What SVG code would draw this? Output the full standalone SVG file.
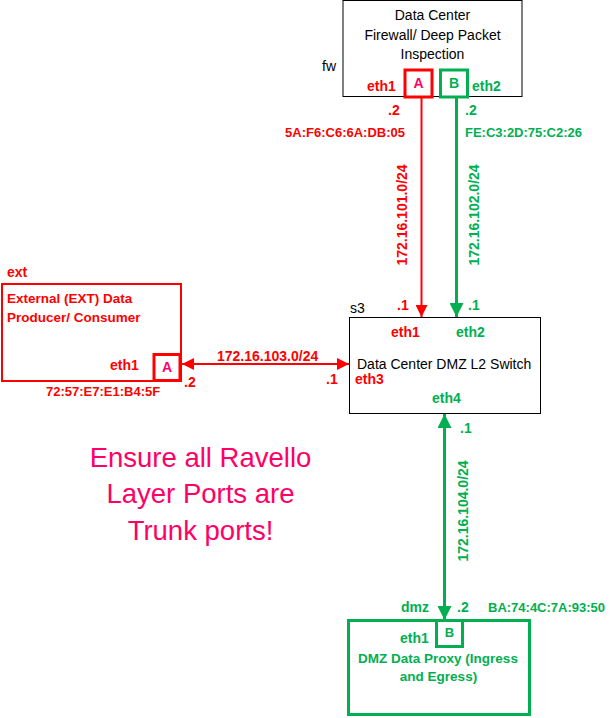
<svg xmlns="http://www.w3.org/2000/svg" width="612" height="718" viewBox="0 0 612 718">
<style>
text{font-family:"Liberation Sans",Arial,sans-serif}
.blk{fill:#000;font-size:14px}
.r{fill:#FF0000;font-weight:bold}
.g{fill:#00B050;font-weight:bold}
.s14{font-size:14px}
.s13{font-size:13px}
.mid{text-anchor:middle}
.box{fill:#fff;stroke:#000;stroke-width:1}
.rbox{fill:#fff;stroke:#FF0000}
.gbox{fill:#fff;stroke:#00B050}
.pink{fill:#FF0066}
</style>
<defs>
<marker id="ar" markerUnits="userSpaceOnUse" markerWidth="12" markerHeight="12" refX="12" refY="6" orient="auto-start-reverse"><path d="M0,0 L12,6 L0,12 z" fill="#FF0000"/></marker>
<marker id="ag" markerUnits="userSpaceOnUse" markerWidth="14" markerHeight="14" refX="14" refY="7" orient="auto-start-reverse"><path d="M0,0 L14,7 L0,14 z" fill="#00B050"/></marker>
</defs>
<rect width="612" height="718" fill="#fff"/>

<g id="fw">
<rect class="box" x="343" y="0.5" width="179" height="96"/>
<text class="blk mid" x="432.5" y="20">Data Center</text>
<text class="blk mid" x="432.5" y="40">Firewall/ Deep Packet</text>
<text class="blk mid" x="432.5" y="59">Inspection</text>
<text class="blk" x="322" y="71">fw</text>
<rect class="rbox" x="405" y="70" width="27" height="27" stroke-width="3"/>
<text class="pink mid s14" x="418.5" y="88" font-weight="bold">A</text>
<rect class="gbox" x="440.5" y="70" width="27" height="27" stroke-width="3"/>
<text class="g mid s14" x="454" y="88">B</text>
<text class="r s14" x="367" y="91">eth1</text>
<text class="g s14" x="472" y="91">eth2</text>
</g>

<g id="s3">
<rect class="box" x="349.5" y="317.5" width="191" height="96"/>
<text class="blk" x="350" y="313">s3</text>
<text class="r s14" x="391" y="337">eth1</text>
<text class="g s14" x="456" y="337">eth2</text>
<text class="blk" x="357" y="369">Data Center DMZ L2 Switch</text>
<text class="r s14" x="355" y="384">eth3</text>
<text class="g s14" x="432" y="403">eth4</text>
</g>

<g id="ext">
<rect class="rbox" x="2" y="284" width="179" height="97" stroke-width="2"/>
<text class="r s14" x="7" y="277">ext</text>
<text class="r" font-size="13.5" x="7" y="303">External (EXT) Data</text>
<text class="r" font-size="13.5" x="7" y="322">Producer/ Consumer</text>
<text class="r s14" x="110" y="370">eth1</text>
<rect class="rbox" x="154" y="354.5" width="26" height="26" stroke-width="3"/>
<text class="pink mid s14" x="167" y="372" font-weight="bold">A</text>
<text class="r s13" x="46" y="396">72:57:E7:E1:B4:5F</text>
</g>

<g id="dmz">
<rect class="gbox" x="348.5" y="620.5" width="181" height="94" stroke-width="3"/>
<rect class="gbox" x="436.5" y="620.5" width="26" height="26" stroke-width="3"/>
<text class="g mid s13" x="449.5" y="637">B</text>
<text class="g s14" x="401" y="612">dmz</text>
<text class="g s14" x="400" y="643">eth1</text>
<text class="g mid" font-size="13.5" x="438" y="663">DMZ Data Proxy (Ingress</text>
<text class="g mid" font-size="13.5" x="438.5" y="681">and Egress)</text>
</g>

<g id="note">
<text class="pink mid" font-size="27.5" x="200.5" y="467">Ensure all Ravello</text>
<text class="pink mid" font-size="27.5" x="200.5" y="503">Layer Ports are</text>
<text class="pink mid" font-size="27.5" x="200.5" y="540">Trunk ports!</text>
</g>

<g id="connectors">
<line x1="421.5" y1="98" x2="421.5" y2="317" stroke="#FF0000" stroke-width="2" marker-end="url(#ar)"/>
<line x1="456.5" y1="98" x2="456.5" y2="317" stroke="#00B050" stroke-width="3" marker-end="url(#ag)"/>
<line x1="182" y1="364" x2="349" y2="364" stroke="#FF0000" stroke-width="2" marker-start="url(#ar)" marker-end="url(#ar)"/>
<line x1="444.5" y1="414" x2="444.5" y2="620" stroke="#00B050" stroke-width="3" marker-start="url(#ag)" marker-end="url(#ag)"/>

<text class="r s14" x="388" y="115">.2</text>
<text class="g s14" x="465" y="115">.2</text>
<text class="r s13" x="405" y="137" text-anchor="end">5A:F6:C6:6A:DB:05</text>
<text class="g s13" x="465" y="137">FE:C3:2D:75:C2:26</text>
<text class="r s14 mid" transform="translate(407,215) rotate(-90)">172.16.101.0/24</text>
<text class="g s14 mid" transform="translate(479,215) rotate(-90)">172.16.102.0/24</text>
<text class="r s14" x="397" y="310">.1</text>
<text class="g s14" x="468" y="310">.1</text>

<text class="r s14" x="217" y="361">172.16.103.0/24</text>
<text class="r s14" x="184" y="387">.2</text>
<text class="r s14" x="326" y="384">.1</text>

<text class="g s14" x="460" y="433">.1</text>
<text class="g s14 mid" transform="translate(468,511) rotate(-90)">172.16.104.0/24</text>
<text class="g s14" x="457" y="612">.2</text>
<text class="g s13" x="488" y="612">BA:74:4C:7A:93:50</text>
</g>
</svg>
